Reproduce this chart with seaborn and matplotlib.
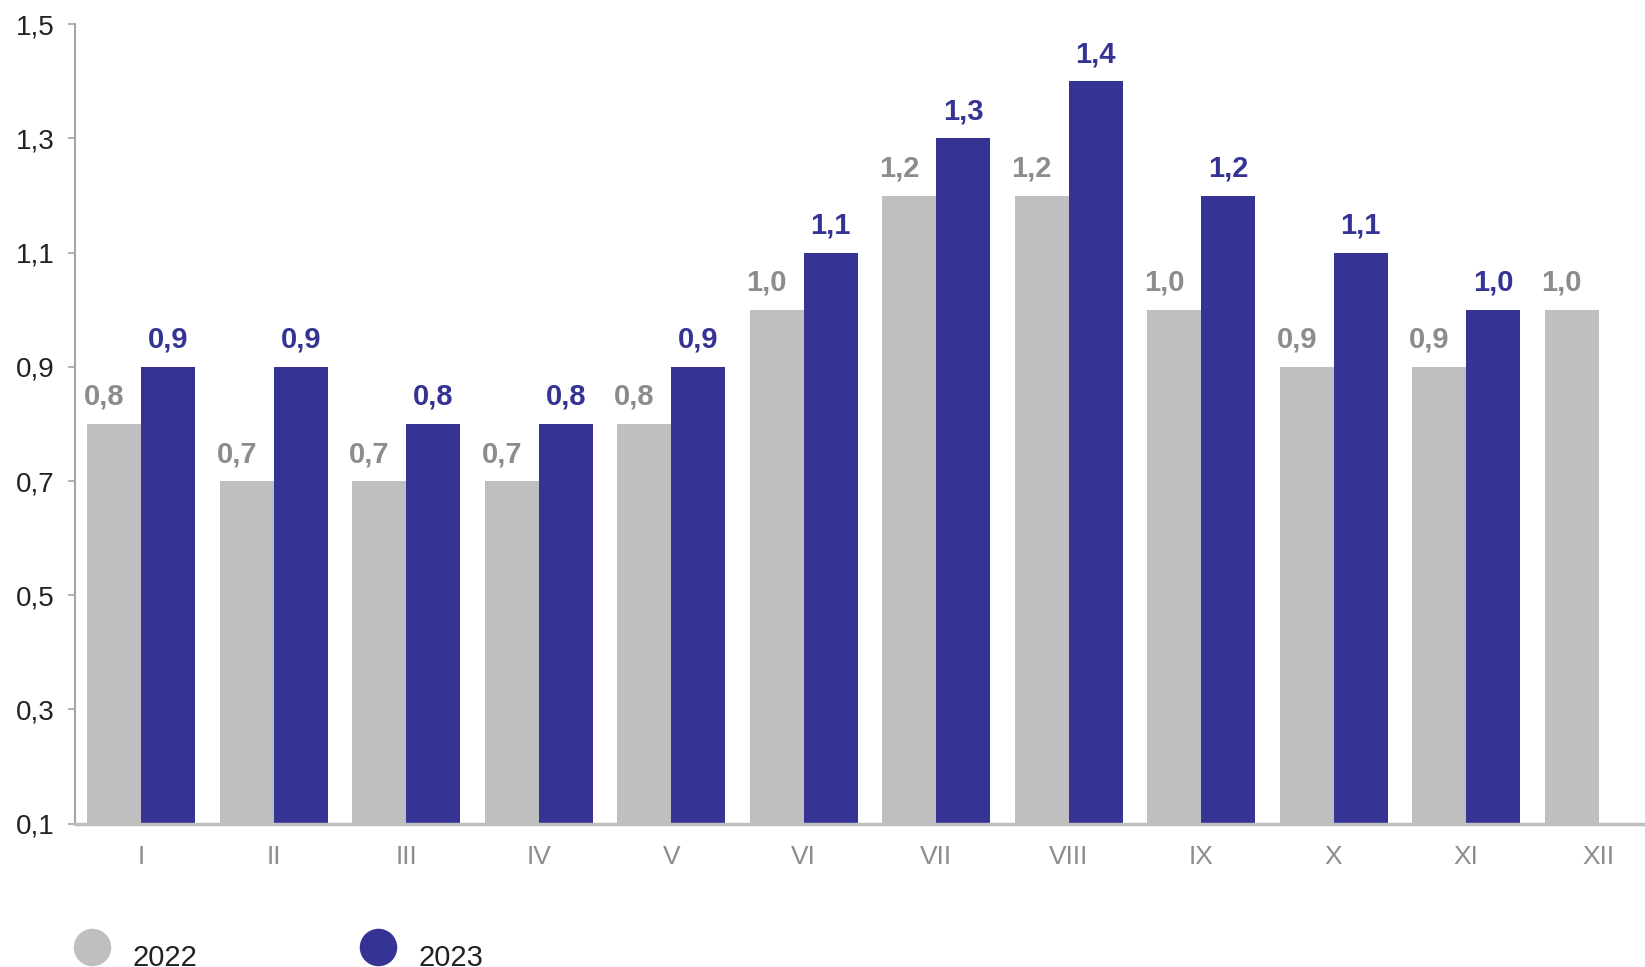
import matplotlib
matplotlib.use("Agg")
import matplotlib.pyplot as plt
from matplotlib.lines import Line2D
import seaborn as sns
import pandas as pd
import numpy as np

months = ["I", "II", "III", "IV", "V", "VI", "VII", "VIII", "IX", "X", "XI", "XII"]
vals_2022 = [0.8, 0.7, 0.7, 0.7, 0.8, 1.0, 1.2, 1.2, 1.0, 0.9, 0.9, 1.0]
vals_2023 = [0.9, 0.9, 0.8, 0.8, 0.9, 1.1, 1.3, 1.4, 1.2, 1.1, 1.0, np.nan]
years = ["2022", "2023"]
yticks = [0.1, 0.3, 0.5, 0.7, 0.9, 1.1, 1.3, 1.5]

GRAY = "#BFBFBF"
BLUE = "#353394"
GRAY_TXT = "#8C8C8C"

df = pd.DataFrame({
    "month": months * 2,
    "value": vals_2022 + vals_2023,
    "year": [years[0]] * 12 + [years[1]] * 12,
})

sns.set_style("white")
plt.rcParams["font.family"] = ["Liberation Sans", "DejaVu Sans"]

fig = plt.figure(figsize=(16.45, 9.67), dpi=100)
ax = fig.add_axes([0.0456, 0.1482, 0.9544, 0.8267])

sns.barplot(data=df, x="month", y="value", hue="year", order=months,
            hue_order=years, palette=[GRAY, BLUE], width=0.815,
            saturation=1, linewidth=0, legend=False, ax=ax)

ax.set_ylim(0.1, 1.5)
ax.set_xlim(-0.5, 11.35)
ax.set_yticks(yticks)
ax.set_yticklabels([f"{v:.1f}".replace(".", ",") for v in yticks])
ax.set_xlabel("")
ax.set_ylabel("")

for s in ["top", "right"]:
    ax.spines[s].set_visible(False)
ax.spines["left"].set_color("#A6A6A6")
ax.spines["left"].set_linewidth(1.5)
ax.spines["bottom"].set_color("#BFBFBF")
ax.spines["bottom"].set_linewidth(2.5)

ax.tick_params(axis="y", left=True, length=5, width=1.2, color="#A6A6A6",
               pad=10, labelsize=20, labelcolor="#222222")
ax.tick_params(axis="x", bottom=False, pad=12, labelsize=19,
               labelcolor="#8C8C8C")

# value labels
for cont, color, dx in zip(ax.containers, [GRAY_TXT, BLUE], [-10, 0]):
    for bar in cont:
        h = bar.get_height()
        if np.isnan(h):
            continue
        ax.annotate(f"{h:.1f}".replace(".", ","),
                    (bar.get_x() + bar.get_width() / 2, h),
                    xytext=(dx, 13), textcoords="offset pixels",
                    ha="center", va="bottom", fontsize=21,
                    fontweight="bold", color=color)

handles = [Line2D([], [], marker="o", linestyle="", markersize=27,
                  markerfacecolor=c, markeredgewidth=0) for c in [GRAY, BLUE]]
leg = fig.legend(handles, years, loc="center left", bbox_to_anchor=(0.022, 0.018),
                 ncol=2, frameon=False, fontsize=21, handletextpad=0.4,
                 columnspacing=5.2, labelcolor="#222222")
for t in leg.get_texts():
    t.set_y(-8)

fig.savefig("out.png", dpi=100)
